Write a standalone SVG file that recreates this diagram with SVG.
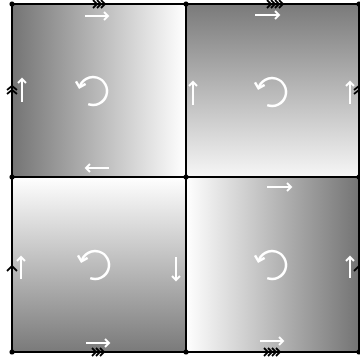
<svg xmlns="http://www.w3.org/2000/svg" width="360" height="364" viewBox="0 0 360 364">
  <defs>
    <linearGradient id="gL2R" x1="0" y1="0" x2="1" y2="0">
      <stop offset="0" stop-color="#747474"/>
      <stop offset="1" stop-color="#ffffff"/>
    </linearGradient>
    <linearGradient id="gR2L" x1="0" y1="0" x2="1" y2="0">
      <stop offset="0" stop-color="#ffffff"/>
      <stop offset="1" stop-color="#747474"/>
    </linearGradient>
    <linearGradient id="gT2B" x1="0" y1="0" x2="0" y2="1">
      <stop offset="0" stop-color="#7a7a7a"/>
      <stop offset="1" stop-color="#f6f6f6"/>
    </linearGradient>
    <linearGradient id="gB2T" x1="0" y1="0" x2="0" y2="1">
      <stop offset="0" stop-color="#ffffff"/>
      <stop offset="1" stop-color="#7a7a7a"/>
    </linearGradient>
    <marker id="wh" markerUnits="userSpaceOnUse" markerWidth="12" markerHeight="12" refX="6" refY="6" orient="auto" viewBox="0 0 12 12">
      <path d="M2,2 L6,6 L2,10" fill="none" stroke="#ffffff" stroke-width="2"/>
    </marker>
    <marker id="whc" markerUnits="userSpaceOnUse" markerWidth="14" markerHeight="14" refX="7" refY="7" orient="auto" viewBox="0 0 14 14">
      <path d="M2,2 L7,7 L2,12" fill="none" stroke="#ffffff" stroke-width="2.5"/>
    </marker>
  </defs>
  <style>
    .warr { fill: none; stroke: #ffffff; stroke-width: 2; marker-end: url(#wh); }
    .rot { fill: none; stroke: #ffffff; stroke-width: 2.5; marker-end: url(#whc); }
    .edge { fill: none; stroke: #000000; stroke-width: 2; }
    .chev { fill: none; stroke: #000000; stroke-width: 1.8; }
    .dot { fill: #000000; }
  </style>

  <g id="cell-top-left">
    <rect x="12" y="4" width="174" height="173" fill="url(#gL2R)"/>
    <path class="warr" d="M85,16 H108"/>
    <path class="warr" d="M22,102 V79"/>
    <path class="warr" d="M109,168 H86"/>
    <path class="rot" d="M88.2,104.2 A14,14 0 1 0 79.5,87.4"/>
  </g>

  <g id="cell-top-right">
    <rect x="186" y="4" width="173" height="173" fill="url(#gT2B)"/>
    <path class="warr" d="M255,15 H279"/>
    <path class="warr" d="M193,105 V82"/>
    <path class="warr" d="M350,104 V82"/>
    <path class="rot" d="M267.2,105.2 A14,14 0 1 0 258.5,88.4"/>
  </g>

  <g id="cell-bottom-left">
    <rect x="12" y="177" width="174" height="175" fill="url(#gB2T)"/>
    <path class="warr" d="M21,279 V257"/>
    <path class="warr" d="M176,257 V280"/>
    <path class="warr" d="M86,343 H109"/>
    <path class="rot" d="M90.2,278.2 A14,14 0 1 0 81.5,261.4"/>
  </g>

  <g id="cell-bottom-right">
    <rect x="186" y="177" width="173" height="175" fill="url(#gR2L)"/>
    <path class="warr" d="M267,187 H291"/>
    <path class="warr" d="M350,278 V257"/>
    <path class="warr" d="M260,341 H283"/>
    <path class="rot" d="M267.2,278.2 A14,14 0 1 0 258.5,261.4"/>
  </g>

  <g id="connectors">
    <path class="edge" d="M12,4 H359 M12,177 H359 M12,352 H359 M12,4 V352 M186,4 V352 M359,4 V352"/>
    <path class="chev" d="M93,0 L97,4 L93,8 M97,0 L101,4 L97,8 M101,0 L105,4 L101,8"/>
    <path class="chev" d="M267,0 L271,4 L267,8 M271,0 L275,4 L271,8 M275,0 L279,4 L275,8 M279,0 L283,4 L279,8"/>
    <path class="chev" d="M92,348 L96,352 L92,356 M96,348 L100,352 L96,356 M100,348 L104,352 L100,356"/>
    <path class="chev" d="M264,348 L268,352 L264,356 M268,348 L272,352 L268,356 M272,348 L276,352 L272,356 M276,348 L280,352 L276,356"/>
    <path class="chev" d="M7,90 L12,86 L17,90 M7,94 L12,90 L17,94"/>
    <path class="chev" d="M354,90 L359,86 L364,90 M354,94 L359,90 L364,94"/>
    <path class="chev" d="M7,271 L12,266 L17,271"/>
    <path class="chev" d="M354,271 L359,266 L364,271"/>
    <circle class="dot" cx="12" cy="4" r="2.5"/>
    <circle class="dot" cx="186" cy="4" r="2.5"/>
    <circle class="dot" cx="359" cy="4" r="2.5"/>
    <circle class="dot" cx="12" cy="177" r="2.5"/>
    <circle class="dot" cx="186" cy="177" r="2.5"/>
    <circle class="dot" cx="359" cy="177" r="2.5"/>
    <circle class="dot" cx="12" cy="352" r="2.5"/>
    <circle class="dot" cx="186" cy="352" r="2.5"/>
    <circle class="dot" cx="359" cy="352" r="2.5"/>
  </g>
</svg>
